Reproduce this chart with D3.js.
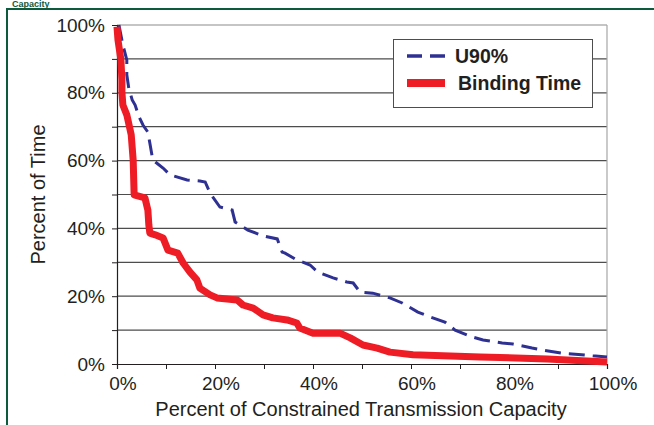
<!DOCTYPE html>
<html>
<head>
<meta charset="utf-8">
<script src="https://cdn.jsdelivr.net/npm/d3@7"></script>
<style>
    body { margin: 0; background: #fff; }
    text { font-family: "Liberation Sans", Arial, Helvetica, sans-serif; fill: #231f20; }
</style>
</head>
<body>
<svg id="chart-svg" width="654" height="425"></svg>
<script>
// Binding Time curve (percent of capacity, percent of time)
const bindingCapacity = [0, 0.2, 0.8, 1.0, 1.0, 1.2, 2.0, 2.9, 3.3, 3.5, 5.7, 6.3, 6.5, 6.7, 7.8, 9.4, 10.4, 12.4, 13.5, 14.9,
    16.3, 16.9, 19.0, 20.4, 24.5, 25.7, 27.8, 29.8, 31.8, 34.7, 36.7, 37.3, 40.0, 45.5, 47.6, 50.2, 53.1, 55.7, 60.4, 74.1, 87.8, 100];
const bindingTime = [99.5, 95.6, 89.7, 83.8, 80.2, 76.4, 73.5, 67.6, 60.2, 49.9, 49.0, 45.4, 41.0, 38.6, 38.1, 37.2, 33.6, 32.7, 29.8, 27.1,
    24.8, 22.4, 20.4, 19.5, 18.9, 17.4, 16.5, 14.5, 13.6, 13.0, 12.1, 10.6, 9.1, 9.1, 7.7, 5.6, 4.7, 3.5, 2.7, 2.1, 1.5, 0.6];

// U90% curve
const u90Capacity = [0.4, 1.2, 2.0, 2.0, 2.4, 3.1, 3.7, 4.5, 5.3, 6.3, 6.7, 7.3, 9.4, 10.8, 14.3, 16.9, 18.0, 19.0, 21.0, 23.5,
    24.1, 25.1, 26.7, 29.8, 32.7, 33.7, 34.3, 36.3, 39.4, 41.0, 44.1, 46.9, 48.2, 49.6, 52.2, 55.7, 58.2, 61.4, 63.9, 66.9,
    69.0, 72.4, 74.7, 78.6, 80.8, 84.7, 86.9, 90.8, 93.5, 97.1, 100];
const u90Time = [100, 94.1, 89.7, 85.3, 81.4, 77.9, 76.4, 72.9, 70.5, 68.4, 65.2, 60.2, 57.8, 55.8, 54.3, 54.0, 53.7, 50.4, 46.3, 45.4,
    41.9, 41.0, 39.5, 37.8, 36.9, 33.0, 32.7, 31.0, 29.2, 27.1, 25.4, 24.2, 23.9, 21.2, 20.9, 19.5, 18.0, 15.3, 13.9, 12.4,
    10.0, 8.0, 7.1, 6.2, 5.9, 4.7, 4.1, 3.2, 2.9, 2.4, 2.1];

const seriesNames = ["U90%", "Binding Time"];
const xTicks = [0, 20, 40, 60, 80, 100];
const yTicks = [0, 20, 40, 60, 80, 100];

const frameGreen = "#0e5a3c";
const blue = "#2e3192";
const red = "#ee1c25";

const svg = d3.select("#chart-svg");
const margin = {left: 117, right: 47, top: 25, bottom: 61};
const width = 654, height = 425;

const x = d3.scaleLinear().domain([0, 100]).range([margin.left, width - margin.right]);
const y = d3.scaleLinear().domain([0, 100]).range([height - margin.bottom, margin.top]);

// outer green frame and the heading above it (mostly cropped away in the source)
svg.append("path")
    .attr("d", `M7,425 V9 H654`)
    .attr("fill", "none")
    .attr("stroke", frameGreen)
    .attr("stroke-width", 2);

svg.append("text")
    .attr("x", 12).attr("y", 7)
    .style("font-weight", "bold").style("font-size", "9px")
    .style("fill", frameGreen)
    .text("Capacity");

// gridlines every 10%
svg.append("g")
    .selectAll("line")
    .data(d3.range(10, 101, 10))
    .join("line")
    .attr("x1", x(0)).attr("x2", x(100))
    .attr("y1", d => y(d)).attr("y2", d => y(d))
    .attr("stroke", d => d === 100 ? "#8c8c8c" : "#4d4d4d")
    .attr("stroke-width", 1.2);

svg.append("line")
    .attr("x1", x(100)).attr("x2", x(100))
    .attr("y1", y(0)).attr("y2", y(100))
    .attr("stroke", "#a6a6a6")
    .attr("stroke-width", 1.2);

// axes
const xAxis = d3.axisBottom(x).tickValues(d3.range(0, 101, 10)).tickSize(5).tickFormat("");
const yAxis = d3.axisLeft(y).tickValues(d3.range(0, 101, 10)).tickSize(5).tickFormat("");

const gx = svg.append("g").attr("transform", `translate(0,${y(0)})`).call(xAxis);
const gy = svg.append("g").attr("transform", `translate(${x(0)},0)`).call(yAxis);
[gx, gy].forEach(g => {
    g.select(".domain").attr("stroke", "#231f20").attr("stroke-width", 1.2);
    g.selectAll(".tick line").attr("stroke", "#231f20");
});

svg.append("g")
    .selectAll("text")
    .data(xTicks)
    .join("text")
    .attr("x", d => x(d) + 6)
    .attr("y", 390)
    .attr("text-anchor", "middle")
    .style("font-size", "19px")
    .text(d => d + "%");

svg.append("g")
    .selectAll("text")
    .data(yTicks)
    .join("text")
    .attr("x", 105)
    .attr("y", d => y(d))
    .attr("dy", "0.35em")
    .attr("text-anchor", "end")
    .style("font-size", "19px")
    .text(d => d + "%");

svg.append("text")
    .attr("x", 361).attr("y", 416)
    .attr("text-anchor", "middle")
    .style("font-size", "20px")
    .text("Percent of Constrained Transmission Capacity");

svg.append("text")
    .attr("transform", `translate(45,${(y(0) + y(100)) / 2}) rotate(-90)`)
    .attr("text-anchor", "middle")
    .style("font-size", "20px")
    .text("Percent of Time");

// curves
const line = d3.line().x(d => x(d[0])).y(d => y(d[1]));

svg.append("path")
    .datum(d3.zip(u90Capacity, u90Time))
    .attr("d", line)
    .attr("fill", "none")
    .attr("stroke", blue)
    .attr("stroke-width", 3)
    .attr("stroke-dasharray", "16,8");

svg.append("path")
    .datum(d3.zip(bindingCapacity, bindingTime))
    .attr("d", line)
    .attr("fill", "none")
    .attr("stroke", red)
    .attr("stroke-width", 7)
    .attr("stroke-linejoin", "round");

// legend
const legend = svg.append("g");
legend.append("rect")
    .attr("x", 393.5).attr("y", 39.5)
    .attr("width", 199).attr("height", 68)
    .attr("fill", "#fff")
    .attr("stroke", "#4d4d4d");

const legendRows = legend.selectAll("g.row")
    .data(seriesNames)
    .join("g")
    .attr("class", "row")
    .attr("transform", (d, i) => `translate(0,${i === 0 ? 56 : 83})`);

legendRows.append("line")
    .attr("x1", 407).attr("x2", 445)
    .attr("stroke", (d, i) => i === 0 ? blue : red)
    .attr("stroke-width", (d, i) => i === 0 ? 3.5 : 8)
    .attr("stroke-dasharray", (d, i) => i === 0 ? "15,8" : null);

legendRows.append("text")
    .attr("x", (d, i) => i === 0 ? 455 : 458)
    .attr("dy", "0.36em")
    .style("font-size", "19.5px")
    .style("font-weight", "bold")
    .text(d => d);
</script>
</body>
</html>
